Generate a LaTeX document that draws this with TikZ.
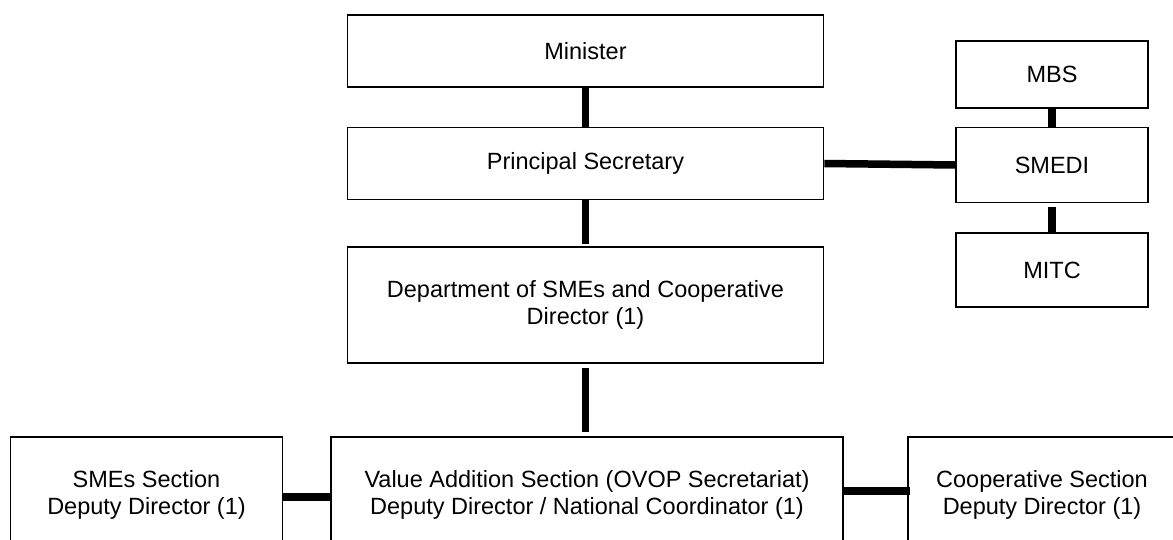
\documentclass[tikz,border=0pt]{standalone}
\usepackage{fontspec}
\setmainfont{Liberation Sans}
\begin{document}
\begin{tikzpicture}[x=1pt,y=-1pt,
  box/.style={draw, line width=1.7pt, rectangle, inner sep=0pt, align=center,
              font=\fontsize{23.5}{27}\selectfont},
  caption/.style={inner sep=0pt, align=center, font=\fontsize{23.5}{27}\selectfont},
  link/.style={line width=7.5pt}]
  \useasboundingbox (0,0) rectangle (1173,540);
  \clip (0,0) rectangle (1173,540);
  % main chain
  \node[box, minimum width=476pt, minimum height=72pt]  (min)   at (585.5,51)    {Minister};
  \node[box, minimum width=476pt, minimum height=72pt]  (ps)    at (585.5,163.5) {Principal Secretary};
  \node[box, minimum width=476pt, minimum height=116pt] (dept)  at (585.5,305)   {Department of SMEs and Cooperative\\Director (1)};
  % side institutions
  \node[box, minimum width=192pt, minimum height=67pt]  (mbs)   at (1052,74.5)   {MBS};
  \node[box, minimum width=192pt, minimum height=75pt]  (smedi) at (1052,165)    {SMEDI};
  \node[box, minimum width=192pt, minimum height=74pt]  (mitc)  at (1052,270)    {MITC};
  % sections
  \node[box, minimum width=272pt, minimum height=116pt] (smes)  at (146.5,495)   {SMEs Section\\Deputy Director (1)};
  \node[box, minimum width=512pt, minimum height=116pt] (value) at (587,495)     {Value Addition Section (OVOP Secretariat)\\Deputy Director / National Coordinator (1)};
  \node[box, minimum width=290pt, minimum height=116pt] (coop)  at (1053,495)    {};
  \node[caption] (cooptext) at (1042,495) {Cooperative Section\\Deputy Director (1)};
  % connectors
  \draw[link] (min.south) -- (ps.north);
  \draw[link, shorten >=2pt] (ps.south) -- (dept.north);
  \draw[link, shorten <=4pt, shorten >=4pt] (dept.south) -- (dept.south |- value.north);
  \draw[link] (ps.east) -- (smedi.west);
  \draw[link] (mbs.south) -- (smedi.north);
  \draw[link, shorten <=4pt] (smedi.south) -- (mitc.north);
  \draw[link] ([yshift=-2pt]smes.east) -- ([yshift=-2pt]value.west);
  \draw[link, shorten >=-3pt] ([yshift=4pt]value.east) -- ([yshift=4pt]coop.west);
\end{tikzpicture}
\end{document}
